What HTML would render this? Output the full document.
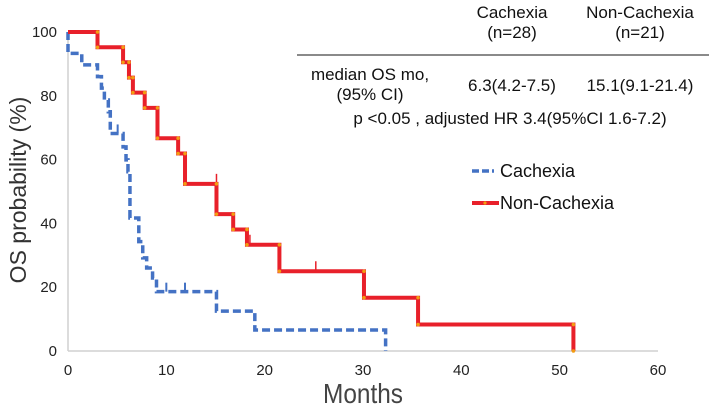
<!DOCTYPE html>
<html><head><meta charset="utf-8">
<style>
body{margin:0;background:#fff;}
svg{display:block;font-family:"Liberation Sans",Arial,sans-serif;}
</style></head>
<body>
<svg width="709" height="408" viewBox="0 0 709 408">
<g id="axes"></g>
<g id="series"></g>
<g fill="#111" font-size="17" text-anchor="middle">
  <text x="512" y="18">Cachexia</text>
  <text x="512" y="38">(n=28)</text>
  <text x="640" y="18">Non-Cachexia</text>
  <text x="640" y="38">(n=21)</text>
  <line x1="297" y1="55" x2="709" y2="55" stroke="#444" stroke-width="1.2"/>
  <text x="370" y="80">median OS mo,</text>
  <text x="370" y="100">(95% CI)</text>
  <text x="512" y="91">6.3(4.2-7.5)</text>
  <text x="640" y="91">15.1(9.1-21.4)</text>
  <text x="510" y="124">p &lt;0.05 , adjusted HR 3.4(95%CI  1.6-7.2)</text>
</g>
<g font-size="18" fill="#111">
  <line x1="472" y1="171" x2="494" y2="171" stroke="#4472c4" stroke-width="3.5" stroke-dasharray="7,3"/>
  <text x="500" y="177">Cachexia</text>
  <line x1="472" y1="203" x2="499" y2="203" stroke="#e8202a" stroke-width="4"/>
  <circle cx="485" cy="203" r="1.6" fill="#f39c12"/>
  <text x="500" y="209">Non-Cachexia</text>
</g>
<text x="26" y="190" transform="rotate(-90 26 190)" text-anchor="middle" font-size="23" fill="#333">OS probability (%)</text>
<text x="363" y="403" text-anchor="middle" font-size="28" fill="#444" textLength="80" lengthAdjust="spacingAndGlyphs">Months</text>
</svg>
<script>
const xTicks=[0,10,20,30,40,50,60];
const yTicks=[0,20,40,60,80,100];
const cachexiaTimes=[0,1.4,3.0,3.4,3.7,4.1,4.3,5.6,5.9,6.1,6.3,7.2,7.6,8.0,8.6,9.0,15.1,19.0,32.3];
const cachexiaSurv=[100,93.3,89.7,86,82.4,78.7,75,68.2,64,59.9,56.2,41.7,34.3,29.2,26,22.9,18.6,12.5,6.6,0];
const cachexiaCensor=[5.05,10.0,11.9];
const nonCachexiaTimes=[3.0,5.6,6.2,6.6,7.8,9.1,11.2,11.9,15.1,16.8,18.2,21.5,30.1,35.6,51.4];
const nonCachexiaSurv=[100,95.2,90.5,85.7,81,76.2,66.7,61.9,52.4,42.9,38.1,33.3,25,16.7,8.3,0];
const nonCachexiaCensor=[15.1,18.5,25.2];

const NS='http://www.w3.org/2000/svg';
const X=t=>68+t*9.833;
const Y=v=>351-v*3.19;
function mk(tag,attrs,parent){const e=document.createElementNS(NS,tag);for(const k in attrs)e.setAttribute(k,attrs[k]);parent.appendChild(e);return e;}
const axes=document.getElementById('axes');
const series=document.getElementById('series');
const xa=mk('line',{x1:X(0),y1:Y(0),x2:X(60),y2:Y(0),stroke:'#d0d0d0','stroke-width':1.5},axes);


const ya=mk('line',{x1:X(0),y1:Y(0),x2:X(0),y2:Y(100),stroke:'#d0d0d0','stroke-width':1.5},axes);


xTicks.forEach(t=>{const e=mk('text',{x:X(t),y:375,'text-anchor':'middle','font-size':15,fill:'#222'},axes);e.textContent=t;

});
yTicks.forEach(v=>{const e=mk('text',{x:57,y:Y(v)+5,'text-anchor':'end','font-size':15,fill:'#222'},axes);e.textContent=v;

});

function stepPath(times,surv){
  let d='M'+X(0)+','+Y(surv[0]);let pts=[];
  for(let i=0;i<times.length;i++){d+=' H'+X(times[i])+' V'+Y(surv[i+1]);pts.push([times[i],surv[i],surv[i+1]]);}
  return {d,pts};
}
function levelAt(times,surv,t){let v=surv[0];for(let i=0;i<times.length;i++){if(times[i]<=t)v=surv[i+1];}return v;}

const c=stepPath(cachexiaTimes,cachexiaSurv);
const cp=mk('path',{d:c.d,fill:'none',stroke:'#4472c4','stroke-width':3.5,'stroke-dasharray':'8,4'},series);


cachexiaCensor.forEach(t=>{const v=levelAt(cachexiaTimes,cachexiaSurv,t);
const e=mk('line',{x1:X(t),x2:X(t),y1:Y(v),y2:Y(v)-9,stroke:'#4472c4','stroke-width':2},series);

});

const n=stepPath(nonCachexiaTimes,nonCachexiaSurv);
const np=mk('path',{d:n.d,fill:'none',stroke:'#e8202a','stroke-width':4},series);


nonCachexiaCensor.forEach(t=>{const v=levelAt(nonCachexiaTimes,nonCachexiaSurv,t-0.01);
const e=mk('line',{x1:X(t),x2:X(t),y1:Y(v),y2:Y(v)-10,stroke:'#e8202a','stroke-width':1.5},series);

});
n.pts.forEach(p=>{[p[1],p[2]].forEach(v=>{const e=mk('circle',{cx:X(p[0]),cy:Y(v),r:1.8,fill:'#f39c12'},series);

});});
</script>
</body></html>
